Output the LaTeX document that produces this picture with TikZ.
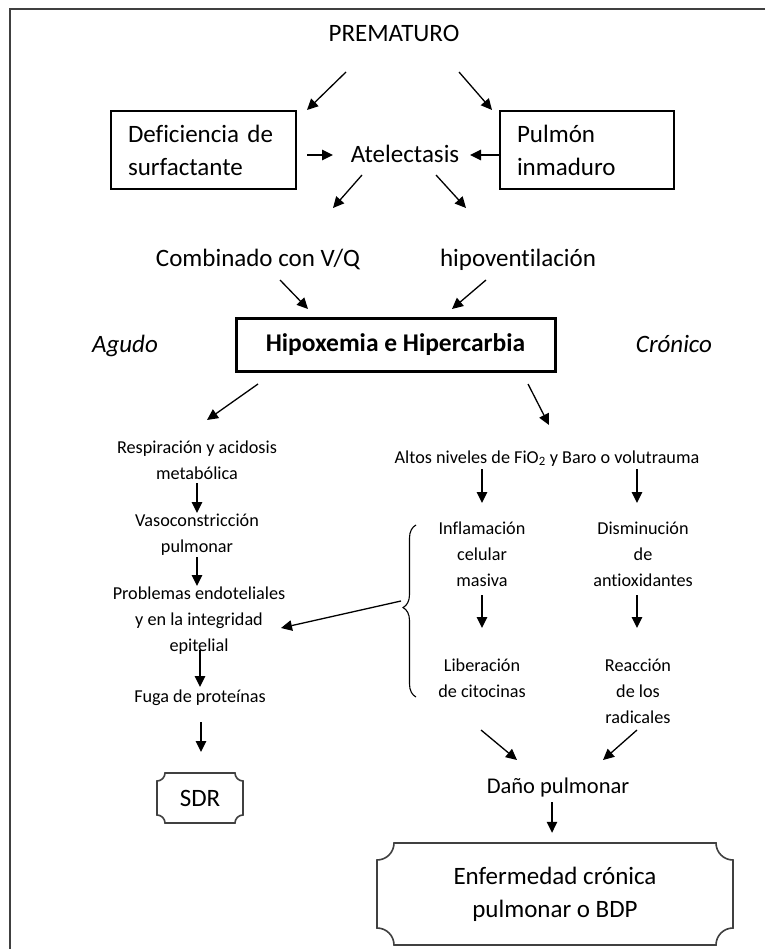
\documentclass[tikz,border=0pt]{standalone}
\usepackage{fontspec}
\setmainfont{Carlito}[Ligatures=NoCommon]
\usetikzlibrary{calc,arrows.meta,decorations.pathreplacing}
\newcommand{\bigf}{\fontsize{25}{33}\selectfont}
\newcommand{\midf}{\fontsize{22.5}{33}\selectfont}
\newcommand{\smf}{\fontsize{18.2}{26}\selectfont}
% plaque outline: x1,y1,x2,y2,r
\newcommand{\plaqueoutline}[5]{%
  \draw[plq] (#1+#5,#2) -- (#3-#5,#2)
    .. controls (#3-#5,#2+0.552*#5) and (#3-0.552*#5,#2+#5) .. (#3,#2+#5)
    -- (#3,#4-#5)
    .. controls (#3-0.552*#5,#4-#5) and (#3-#5,#4-0.552*#5) .. (#3-#5,#4)
    -- (#1+#5,#4)
    .. controls (#1+#5,#4-0.552*#5) and (#1+0.552*#5,#4-#5) .. (#1,#4-#5)
    -- (#1,#2+#5)
    .. controls (#1+0.552*#5,#2+#5) and (#1+#5,#2+0.552*#5) .. (#1+#5,#2) -- cycle;}
\tikzset{
  txt/.style={inner sep=0pt, align=center, text=black},
  big/.style={txt, font=\bigf, anchor=base},
  sm/.style={txt, font=\smf},
  sqbox/.style={draw=black, line width=1.2pt, inner sep=0pt, align=left, font=\bigf},
  arr/.style={line width=1.3pt, -{Triangle[length=11pt,width=10.5pt]}},
  plq/.style={draw=black!75, line width=1.6pt},
  frame/.style={draw=black!75, line width=2pt}
}
\begin{document}
\begin{tikzpicture}[x=1pt,y=-1pt]
\useasboundingbox (0,0) rectangle (765,949);
\fill[white] (0,0) rectangle (765,949);
\draw[frame] (765,9) -- (10,9) -- (10,949);

% top part
\node[big] (prem) at (394,42) {PREMATURO};
\node[sqbox, minimum width=185pt, minimum height=78pt, text width=151pt] (def) at (203.5,150) {Deficiencia de\\surfactante};
\node[sqbox, minimum width=174pt, minimum height=78pt, text width=140pt] (pul) at (587,150) {Pulmón\\inmaduro};
\node[big] (atel) at (405,163) {Atelectasis};
\node[big] (comb) at (258,267) {Combinado con V/Q};
\node[big] (hipo) at (518,267) {hipoventilación};
\node[draw=black, line width=3pt, minimum width=319pt, minimum height=53pt, inner sep=0pt, font=\fontsize{25.5}{30}\selectfont\bfseries] (hh) at (395.5,344.5) {Hipoxemia e Hipercarbia};
\node[big, font=\bigf\itshape] (agudo) at (125,352) {Agudo};
\node[big, font=\bigf\itshape] (cron) at (674,352) {Crónico};

\draw[arr] ($(prem.base)+(-48,30)$) -- ($(prem.base)+(-87,68)$);
\draw[arr] ($(prem.base)+(65,30)$) -- ($(prem.base)+(98,68)$);
\draw[arr] ($(atel.base)+(-98,-8)$) -- ($(atel.base)+(-72,-8)$);
\draw[arr] ($(pul.west)+(0,5)$) -- ($(atel.base)+(65,-8)$);
\draw[arr] ($(atel.base)+(-43,12)$) -- ($(atel.base)+(-72,45)$);
\draw[arr] ($(atel.base)+(31,12)$) -- ($(atel.base)+(61,45)$);
\draw[arr] ($(comb.base)+(22,13)$) -- ($(hh)+(-87.5,-35.5)$);
\draw[arr] ($(hipo.base)+(-32,13)$) -- ($(hh)+(56.5,-35.5)$);
\draw[arr] ($(hh)+(-137.5,39.5)$) -- ($(hh)+(-188.5,75.5)$);
\draw[arr] ($(hh)+(132.5,39.5)$) -- ($(hh)+(153.5,80.5)$);

% left column (agudo)
\node[sm] (resp) at (197,460) {Respiración y acidosis\\metabólica};
\node[sm] (vaso) at (197,534.5) {Vasoconstricción\\pulmonar};
\node[sm] (prob) at (199,621) {Problemas endoteliales\\y en la integridad\\epitelial};
\node[sm, anchor=base] (fuga) at (200,702) {Fuga de proteínas};
\node[txt, font=\bigf, minimum width=86pt, minimum height=50pt] (sdr) at (200,798) {SDR};
\plaqueoutline{157}{773}{243}{823}{8}

\draw[arr] ($(resp)+(0,23)$) -- ($(resp)+(0,53)$);
\draw[arr] ($(vaso)+(0,22.5)$) -- ($(vaso)+(0,51.5)$);
\draw[arr] ($(prob)+(1,29)$) -- ($(prob)+(1,66)$);
\draw[arr] ($(fuga.base)+(1,20)$) -- ($(fuga.base)+(1,50)$);

% right column (cronico)
\node[sm, anchor=base] (altos) at (547,463) {Altos niveles de FiO\textsubscript{2} y Baro o volutrauma};
\node[sm] (infl) at (482,554) {Inflamación\\celular\\masiva};
\node[sm] (lib) at (482,678) {Liberación\\de citocinas};
\node[sm] (dism) at (643,554) {Disminución\\de\\antioxidantes};
\node[sm] (reac) at (638,691) {Reacción\\de los\\radicales};
\node[txt, font=\midf, anchor=base] (dano) at (558,793) {Daño pulmonar};
\node[txt, font=\bigf, minimum width=356pt, minimum height=102pt] (enf) at (555,894) {Enfermedad crónica\\pulmonar o BDP};
\plaqueoutline{377}{843}{733}{945}{17}

\draw[line width=1.1pt, decorate, decoration={brace, amplitude=13pt, aspect=0.52}] (416,697) -- (416,525);
\coordinate (bt) at (401,601);
\draw[arr] (bt) -- ($(prob)+(82,7)$);

\draw[arr] ($(altos.base)+(-65,6)$) -- ($(altos.base)+(-65,40)$);
\draw[arr] ($(altos.base)+(90,6)$) -- ($(altos.base)+(90,40)$);
\draw[arr] ($(infl)+(0,41)$) -- ($(infl)+(0,74)$);
\draw[arr] ($(dism)+(-6,41)$) -- ($(dism)+(-6,74)$);
\draw[arr] ($(lib)+(-1,52)$) -- ($(lib)+(35,82)$);
\draw[arr] ($(reac)+(-1,39)$) -- ($(reac)+(-35,69)$);
\draw[arr] ($(dano.base)+(-6,9)$) -- ($(enf.north)+(-3,-10)$);
\end{tikzpicture}
\end{document}
